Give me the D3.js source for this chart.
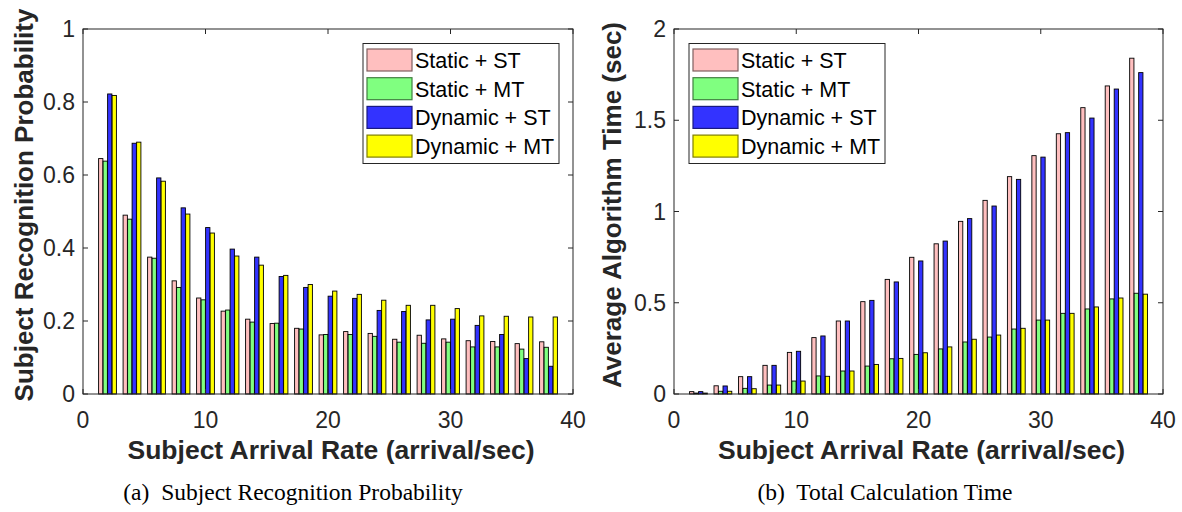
<!DOCTYPE html>
<html>
<head>
<meta charset="utf-8">
<script src="https://cdn.jsdelivr.net/npm/d3@7"></script>
<style>
  body { margin: 0; background: #fff; }
  svg { display: block; }
</style>
</head>
<body>
<svg id="chart" width="1182" height="512"></svg>
<script>
// arrival rate groups
var rates = [2, 4, 6, 8, 10, 12, 14, 16, 18, 20, 22, 24, 26, 28, 30, 32, 34, 36, 38];
var seriesNames = ["Static + ST", "Static + MT", "Dynamic + ST", "Dynamic + MT"];
var seriesColors = ["#ffbfbf", "#80ff80", "#3333ff", "#ffff00"];
var legendEdges = ["#7f5f5f", "#407f40", "#1a1a7f", "#7f7f00"];

// (a) recognition probability
var probStaticST  = [0.645, 0.49, 0.375, 0.31, 0.263, 0.227, 0.205, 0.193, 0.18, 0.162, 0.171, 0.166, 0.15, 0.161, 0.151, 0.146, 0.144, 0.138, 0.143];
var probStaticMT  = [0.638, 0.479, 0.372, 0.292, 0.258, 0.23, 0.197, 0.194, 0.178, 0.163, 0.163, 0.158, 0.142, 0.139, 0.142, 0.129, 0.129, 0.123, 0.128];
var probDynST     = [0.822, 0.687, 0.592, 0.51, 0.456, 0.397, 0.375, 0.322, 0.292, 0.268, 0.262, 0.229, 0.226, 0.203, 0.205, 0.188, 0.163, 0.097, 0.076];
var probDynMT     = [0.818, 0.69, 0.583, 0.493, 0.441, 0.378, 0.353, 0.325, 0.3, 0.282, 0.273, 0.257, 0.243, 0.243, 0.234, 0.214, 0.213, 0.211, 0.211];

// (b) average algorithm time (sec)
var timeStaticST  = [0.013, 0.045, 0.095, 0.157, 0.228, 0.309, 0.4, 0.506, 0.628, 0.749, 0.823, 0.946, 1.061, 1.191, 1.306, 1.426, 1.569, 1.688, 1.84];
var timeStaticMT  = [0.005, 0.015, 0.031, 0.049, 0.071, 0.099, 0.126, 0.153, 0.193, 0.217, 0.247, 0.285, 0.312, 0.356, 0.405, 0.442, 0.466, 0.521, 0.552];
var timeDynST     = [0.013, 0.044, 0.095, 0.157, 0.234, 0.318, 0.4, 0.513, 0.614, 0.729, 0.838, 0.961, 1.03, 1.176, 1.298, 1.432, 1.512, 1.671, 1.761];
var timeDynMT     = [0.005, 0.015, 0.029, 0.049, 0.071, 0.097, 0.126, 0.162, 0.195, 0.226, 0.258, 0.3, 0.323, 0.36, 0.405, 0.442, 0.477, 0.526, 0.547];

var xTicks = [0, 10, 20, 30, 40];
var probTicks = [0, 0.2, 0.4, 0.6, 0.8, 1];
var timeTicks = [0, 0.5, 1, 1.5, 2];

var sans = "'Liberation Sans', Arial, Helvetica, sans-serif";
var serif = "'Liberation Serif', 'Times New Roman', serif";
var axisColor = "#262626";

var svg = d3.select("#chart");

function drawPanel(opts) {
    var left = opts.left, right = opts.right, top = 29, bottom = 394;
    var g = svg.append("g");

    var x = d3.scaleLinear().domain([0, 40]).range([left, right]);
    var y = d3.scaleLinear().domain(opts.yDomain).range([bottom, top]);

    // grouped bars like matlab (group width ~0.727 of spacing)
    var step = x(2) - x(0);
    var groupW = step * 4 / 5.5;
    var inner = d3.scaleBand().domain(d3.range(4)).range([-groupW / 2, groupW / 2]).paddingInner(0.05);

    var rows = [];
    opts.series.forEach(function(vals, s) {
        vals.forEach(function(v, i) {
            rows.push({s: s, rate: rates[i], v: v});
        });
    });

    g.selectAll("rect.bar")
        .data(rows)
        .enter()
        .append("rect")
        .attr("class", "bar")
        .attr("x", function(d) { return x(d.rate) + inner(d.s); })
        .attr("y", function(d) { return y(d.v); })
        .attr("width", inner.bandwidth())
        .attr("height", function(d) { return bottom - y(d.v); })
        .attr("fill", function(d) { return seriesColors[d.s]; })
        .attr("stroke", "#000")
        .attr("stroke-width", 0.9);

    // box
    g.append("rect")
        .attr("x", left).attr("y", top)
        .attr("width", right - left).attr("height", bottom - top)
        .attr("fill", "none")
        .attr("stroke", axisColor)
        .attr("stroke-width", 1);

    // ticks inward on all four sides
    var tl = 5;
    g.selectAll("line.xt")
        .data(xTicks)
        .enter()
        .append("line")
        .attr("x1", function(d) { return x(d); }).attr("x2", function(d) { return x(d); })
        .attr("y1", bottom).attr("y2", bottom - tl)
        .attr("stroke", axisColor);
    g.selectAll("line.xt2")
        .data(xTicks)
        .enter()
        .append("line")
        .attr("x1", function(d) { return x(d); }).attr("x2", function(d) { return x(d); })
        .attr("y1", top).attr("y2", top + tl)
        .attr("stroke", axisColor);
    g.selectAll("line.yt")
        .data(opts.yTicks)
        .enter()
        .append("line")
        .attr("x1", left).attr("x2", left + tl)
        .attr("y1", function(d) { return y(d); }).attr("y2", function(d) { return y(d); })
        .attr("stroke", axisColor);
    g.selectAll("line.yt2")
        .data(opts.yTicks)
        .enter()
        .append("line")
        .attr("x1", right).attr("x2", right - tl)
        .attr("y1", function(d) { return y(d); }).attr("y2", function(d) { return y(d); })
        .attr("stroke", axisColor);

    // tick labels
    g.selectAll("text.xl")
        .data(xTicks)
        .enter()
        .append("text")
        .attr("x", function(d) { return x(d); })
        .attr("y", 428)
        .attr("text-anchor", "middle")
        .style("font", "23px " + sans)
        .attr("fill", axisColor)
        .text(function(d) { return d; });
    g.selectAll("text.yl")
        .data(opts.yTicks)
        .enter()
        .append("text")
        .attr("x", left - 8)
        .attr("y", function(d) { return y(d) + 8; })
        .attr("text-anchor", "end")
        .style("font", "23px " + sans)
        .attr("fill", axisColor)
        .text(function(d) { return d; });

    // axis titles
    g.append("text")
        .attr("x", (left + right) / 2 + 3)
        .attr("y", 459)
        .attr("text-anchor", "middle")
        .style("font", "bold 26.5px " + sans)
        .attr("fill", axisColor)
        .text("Subject Arrival Rate (arrival/sec)");
    g.append("text")
        .attr("transform", "translate(" + opts.yLabelX + "," + 205 + ") rotate(-90)")
        .attr("text-anchor", "middle")
        .style("font", "bold 26px " + sans)
        .attr("fill", axisColor)
        .text(opts.yLabel);

    // legend
    var lx = opts.legendX, ly = 43.5;
    var lg = g.append("g");
    lg.append("rect")
        .attr("x", lx).attr("y", ly)
        .attr("width", 196).attr("height", 120)
        .attr("fill", "#fff")
        .attr("stroke", axisColor)
        .attr("stroke-width", 1);
    var item = lg.selectAll("g.item")
        .data(seriesNames)
        .enter()
        .append("g")
        .attr("transform", function(d, i) { return "translate(" + (lx + 4) + "," + (ly + 5.5 + i * 28.7) + ")"; });
    item.append("rect")
        .attr("width", 45).attr("height", 22)
        .attr("fill", function(d, i) { return seriesColors[i]; })
        .attr("stroke", function(d, i) { return legendEdges[i]; })
        .attr("stroke-width", 1.2);
    item.append("text")
        .attr("x", 48)
        .attr("y", 19)
        .style("font", "21.5px " + sans)
        .attr("fill", "#000")
        .text(function(d) { return d; });

    // caption
    svg.append("text")
        .attr("x", opts.captionX)
        .attr("y", 500)
        .attr("text-anchor", "middle")
        .style("font", "23.5px " + serif)
        .style("white-space", "pre")
        .attr("fill", "#000")
        .text(opts.caption);
}

drawPanel({
    left: 83, right: 573,
    yDomain: [0, 1], yTicks: probTicks,
    series: [probStaticST, probStaticMT, probDynST, probDynMT],
    yLabel: "Subject Recognition Probability", yLabelX: 33,
    legendX: 363,
    caption: "(a)  Subject Recognition Probability", captionX: 293
});

drawPanel({
    left: 674, right: 1163,
    yDomain: [0, 2], yTicks: timeTicks,
    series: [timeStaticST, timeStaticMT, timeDynST, timeDynMT],
    yLabel: "Average Algorithm Time (sec)", yLabelX: 621,
    legendX: 689,
    caption: "(b)  Total Calculation Time", captionX: 885
});
</script>
</body>
</html>
